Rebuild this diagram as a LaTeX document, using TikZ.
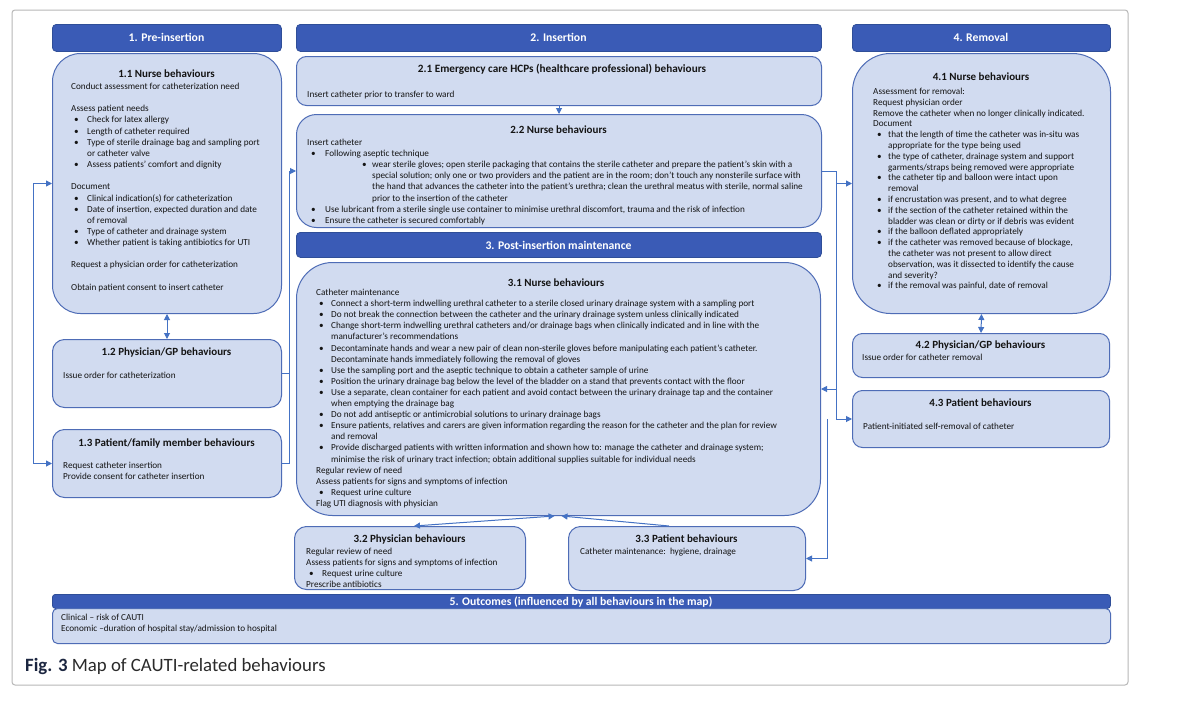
\documentclass[tikz,border=0pt]{standalone}
\usepackage{fontspec}
\setmainfont{Carlito}
\usetikzlibrary{arrows.meta,calc}
\definecolor{hdr}{HTML}{3A5BB6}
\definecolor{hdrline}{HTML}{2F4E98}
\definecolor{boxfill}{HTML}{D1DBF0}
\definecolor{boxline}{HTML}{4E6CB6}
\definecolor{arrc}{HTML}{4472C4}
\definecolor{txt}{HTML}{141414}
\definecolor{capc}{HTML}{2A2A2A}
\definecolor{capf}{HTML}{1C2640}
\newcommand\nl{\hfil\break}
\newcommand\pl[1]{\par\noindent #1}
\newcommand\bux[3]{\par\hangindent=#2\hangafter=1\noindent\hskip#1\rlap{•}\hskip\dimexpr#2-#1\relax #3}
\newcommand\bk{\par\noindent\mbox{}}
\tikzset{
  hdrbox/.style={draw=hdrline, fill=hdr, line width=0.8pt, rounded corners=4pt, inner sep=0, anchor=north west},
  bbox/.style={draw=boxline, fill=boxfill, line width=1pt, inner sep=0, anchor=north west},
  hdrtext/.style={text=white, font=\fontsize{11.7}{13}\selectfont\bfseries, inner sep=0, anchor=base},
  ttl/.style={font=\fontsize{11}{13}\selectfont\bfseries, text=txt, inner sep=0, anchor=base},
  body/.style={inner sep=0, anchor=base west, text=txt},
  conn/.style={draw=arrc, line width=1pt},
  arr/.style={conn, -{Triangle[width=6pt,length=6pt]}},
  dbl/.style={conn, {Triangle[width=6pt,length=6pt]}-{Triangle[width=6pt,length=6pt]}},
}
\begin{document}
\begin{tikzpicture}[x=1pt,y=-1pt]
\useasboundingbox (0,0) rectangle (1200,723);
\fill[white] (0,0) rectangle (1200,723);
\draw[black!28, line width=1pt, rounded corners=3pt] (12,10) rectangle (1128,685);

% ---------- boxes ----------
\node[hdrbox, minimum width=229pt, minimum height=27pt] (h1) at (52,24) {};
\node[bbox, rounded corners=28pt, minimum width=229pt, minimum height=260pt] (n11) at (52,53) {};
\node[bbox, rounded corners=12pt, minimum width=229pt, minimum height=68pt] (n12) at (52,339) {};
\node[bbox, rounded corners=12pt, minimum width=229pt, minimum height=68pt] (n13) at (52,429) {};

\node[hdrbox, minimum width=525pt, minimum height=27pt] (h2) at (296,24) {};
\node[bbox, rounded corners=10pt, minimum width=525pt, minimum height=49pt] (n21) at (296,56) {};
\node[bbox, rounded corners=20pt, minimum width=525pt, minimum height=113pt] (n22) at (296,114) {};
\node[hdrbox, minimum width=525pt, minimum height=25pt] (h3) at (296,232) {};
\node[bbox, rounded corners=36pt, minimum width=524pt, minimum height=253pt] (n31) at (296,262) {};
\node[bbox, rounded corners=12pt, minimum width=231pt, minimum height=63pt] (n32) at (294,526) {};
\node[bbox, rounded corners=12pt, minimum width=237pt, minimum height=64pt] (n33) at (568,526) {};

\node[hdrbox, minimum width=258pt, minimum height=27pt] (h4) at (852,24) {};
\node[bbox, rounded corners=38pt, minimum width=258pt, minimum height=260pt] (n41) at (852,53) {};
\node[bbox, rounded corners=10pt, minimum width=257pt, minimum height=44pt] (n42) at (852,333) {};
\node[bbox, rounded corners=10pt, minimum width=257pt, minimum height=57pt] (n43) at (852,390) {};

\node[hdrbox, rounded corners=3pt, minimum width=1058pt, minimum height=14pt] (h5) at (52,594) {};
\node[bbox, rounded corners=5pt, minimum width=1058pt, minimum height=35pt] (n5) at (52,608) {};

% ---------- headers ----------
\node[hdrtext] (th1) at (166.5,41.5) {1. Pre-insertion};
\node[hdrtext] (th2) at (558.5,41.5) {2. Insertion};
\node[hdrtext] (th3) at (558.5,249) {3. Post-insertion maintenance};
\node[hdrtext] (th4) at (981,41.5) {4. Removal};
\node[hdrtext] (th5) at (581,605) {5. Outcomes (influenced by all behaviours in the map)};

% ---------- titles ----------
\node[ttl] (t11) at (166.5,77.5) {1.1 Nurse behaviours};
\node[ttl] (t12) at (166.5,355.5) {1.2 Physician/GP behaviours};
\node[ttl] (t13) at (166.5,446.5) {1.3 Patient/family member behaviours};
\node[ttl, font=\fontsize{11.2}{13}\selectfont\bfseries] (t21) at (562,72.5) {2.1 Emergency care HCPs (healthcare professional) behaviours};
\node[ttl] (t22) at (558.5,133.5) {2.2 Nurse behaviours};
\node[ttl] (t31) at (556,286.5) {3.1 Nurse behaviours};
\node[ttl] (t32) at (409.5,542.5) {3.2 Physician behaviours};
\node[ttl] (t33) at (686.5,542.5) {3.3 Patient behaviours};
\node[ttl] (t41) at (981,80.5) {4.1 Nurse behaviours};
\node[ttl] (t42) at (980.5,348.5) {4.2 Physician/GP behaviours};
\node[ttl] (t43) at (980.5,406.5) {4.3 Patient behaviours};

% ---------- bodies ----------
\node[body] (b11) at (71,89.5) {\begin{minipage}[t]{300pt}\fontsize{9.2}{11.15}\selectfont\raggedright
\pl{Conduct assessment for catheterization need}
\bk
\pl{Assess patient needs}
\bux{3pt}{16pt}{Check for latex allergy}
\bux{3pt}{16pt}{Length of catheter required}
\bux{3pt}{16pt}{Type of sterile drainage bag and sampling port\nl or catheter valve}
\bux{3pt}{16pt}{Assess patients’ comfort and dignity}
\bk
\pl{Document}
\bux{3pt}{16pt}{Clinical indication(s) for catheterization}
\bux{3pt}{16pt}{Date of insertion, expected duration and date\nl of removal}
\bux{3pt}{16pt}{Type of catheter and drainage system}
\bux{3pt}{16pt}{Whether patient is taking antibiotics for UTI}
\bk
\pl{Request a physician order for catheterization}
\bk
\pl{Obtain patient consent to insert catheter}
\end{minipage}};

\node[body] (b12) at (63,378.5) {\begin{minipage}[t]{200pt}\fontsize{9.2}{11.1}\selectfont\raggedright
\pl{Issue order for catheterization}
\end{minipage}};

\node[body] (b13) at (63,468.5) {\begin{minipage}[t]{200pt}\fontsize{9.2}{11.1}\selectfont\raggedright
\pl{Request catheter insertion}
\pl{Provide consent for catheter insertion}
\end{minipage}};

\node[body] (b21) at (307,97) {\begin{minipage}[t]{300pt}\fontsize{9.2}{11.1}\selectfont\raggedright
\pl{Insert catheter prior to transfer to ward}
\end{minipage}};

\node[body] (b22) at (307,145.5) {\begin{minipage}[t]{520pt}\fontsize{9.2}{11.1}\selectfont\raggedright
\pl{Insert catheter}
\bux{4pt}{18pt}{Following aseptic technique}
\bux{55pt}{65pt}{wear sterile gloves; open sterile packaging that contains the sterile catheter and prepare the patient’s skin with a\nl special solution; only one or two providers and the patient are in the room; don’t touch any nonsterile surface with\nl the hand that advances the catheter into the patient’s urethra; clean the urethral meatus with sterile, normal saline\nl prior to the insertion of the catheter}
\bux{4pt}{18pt}{Use lubricant from a sterile single use container to minimise urethral discomfort, trauma and the risk of infection}
\bux{4pt}{18pt}{Ensure the catheter is secured comfortably}
\end{minipage}};

\node[body] (b31) at (316,295.5) {\begin{minipage}[t]{520pt}\fontsize{9.2}{11.1}\selectfont\raggedright
\pl{Catheter maintenance}
\bux{3pt}{15pt}{Connect a short-term indwelling urethral catheter to a sterile closed urinary drainage system with a sampling port}
\bux{3pt}{15pt}{Do not break the connection between the catheter and the urinary drainage system unless clinically indicated}
\bux{3pt}{15pt}{Change short-term indwelling urethral catheters and/or drainage bags when clinically indicated and in line with the\nl manufacturer’s recommendations}
\bux{3pt}{15pt}{Decontaminate hands and wear a new pair of clean non-sterile gloves before manipulating each patient’s catheter.\nl Decontaminate hands immediately following the removal of gloves}
\bux{3pt}{15pt}{Use the sampling port and the aseptic technique to obtain a catheter sample of urine}
\bux{3pt}{15pt}{Position the urinary drainage bag below the level of the bladder on a stand that prevents contact with the floor}
\bux{3pt}{15pt}{Use a separate, clean container for each patient and avoid contact between the urinary drainage tap and the container\nl when emptying the drainage bag}
\bux{3pt}{15pt}{Do not add antiseptic or antimicrobial solutions to urinary drainage bags}
\bux{3pt}{15pt}{Ensure patients, relatives and carers are given information regarding the reason for the catheter and the plan for review\nl and removal}
\bux{3pt}{15pt}{Provide discharged patients with written information and shown how to: manage the catheter and drainage system;\nl minimise the risk of urinary tract infection; obtain additional supplies suitable for individual needs}
\pl{Regular review of need}
\pl{Assess patients for signs and symptoms of infection}
\bux{3pt}{15pt}{Request urine culture}
\pl{Flag UTI diagnosis with physician}
\end{minipage}};

\node[body] (b32) at (306,554.5) {\begin{minipage}[t]{220pt}\fontsize{9.2}{11}\selectfont\raggedright
\pl{Regular review of need}
\pl{Assess patients for signs and symptoms of infection}
\bux{3pt}{16pt}{Request urine culture}
\pl{Prescribe antibiotics}
\end{minipage}};

\node[body] (b33) at (580,554.5) {\begin{minipage}[t]{220pt}\fontsize{9.2}{11}\selectfont\raggedright
\pl{Catheter maintenance:\ \ hygiene, drainage}
\end{minipage}};

\node[body] (b41) at (873,94.5) {\begin{minipage}[t]{240pt}\fontsize{9.2}{10.8}\selectfont\raggedright
\pl{Assessment for removal:}
\pl{Request physician order}
\pl{Remove the catheter when no longer clinically indicated.}
\pl{Document}
\bux{4pt}{15pt}{that the length of time the catheter was in-situ was\nl appropriate for the type being used}
\bux{4pt}{15pt}{the type of catheter, drainage system and support\nl garments/straps being removed were appropriate}
\bux{4pt}{15pt}{the catheter tip and balloon were intact upon\nl removal}
\bux{4pt}{15pt}{if encrustation was present, and to what degree}
\bux{4pt}{15pt}{if the section of the catheter retained within the\nl bladder was clean or dirty or if debris was evident}
\bux{4pt}{15pt}{if the balloon deflated appropriately}
\bux{4pt}{15pt}{if the catheter was removed because of blockage,\nl the catheter was not present to allow direct\nl observation, was it dissected to identify the cause\nl and severity?}
\bux{4pt}{15pt}{if the removal was painful, date of removal}
\end{minipage}};

\node[body] (b42) at (862,360.5) {\begin{minipage}[t]{240pt}\fontsize{9.2}{11}\selectfont\raggedright
\pl{Issue order for catheter removal}
\end{minipage}};

\node[body] (b43) at (863,429.5) {\begin{minipage}[t]{240pt}\fontsize{9.2}{11}\selectfont\raggedright
\pl{Patient-initiated self-removal of catheter}
\end{minipage}};

\node[body] (b5) at (61,620.5) {\begin{minipage}[t]{400pt}\fontsize{9.2}{11}\selectfont\raggedright
\pl{Clinical – risk of CAUTI}
\pl{Economic –duration of hospital stay/admission to hospital}
\end{minipage}};

\node[inner sep=0, anchor=base west, font=\fontsize{18.8}{21}\selectfont, text=capc] (cap) at (25,671) {\textcolor{capf}{\textbf{Fig. 3}} Map of CAUTI-related behaviours};

% ---------- connectors ----------
\coordinate (rA) at (836,0);
\coordinate (rC) at (827,0);
\coordinate (lA) at (289,0);
\coordinate (lL) at (33,0);

\draw[dbl] (n11.west) -- (n11.west -| lL) -- (n13.west -| lL) -- (n13.west);
\draw[dbl] (n11.south) -- (n12.north);
\draw[conn] (n12.east) -- (n12.east -| lA);
\draw[arr] (n13.east) -- (n13.east -| lA) -- (n22.west -| lA) -- (n22.west);
\draw[arr] (n21.south) -- (n22.north);
\draw[arr] (n22.east) -- (n22.east -| rA) -- (n43.west -| rA) -- (n43.west);
\draw[arr] (n41.west -| rA) -- (n41.west);
\draw[arr] (n31.east -| rA) -- (n31.east);
\draw[arr] (n43.west -| rC) -- (n33.east -| rC) -- (n33.east);
\draw[dbl] (n41.south) -- (n42.north);
\draw[dbl] ([xshift=-4pt]n31.south) -- ([xshift=4pt]n32.north);
\draw[arr] ([xshift=-18pt]n33.north) -- ([xshift=3pt]n31.south);
\end{tikzpicture}
\end{document}
